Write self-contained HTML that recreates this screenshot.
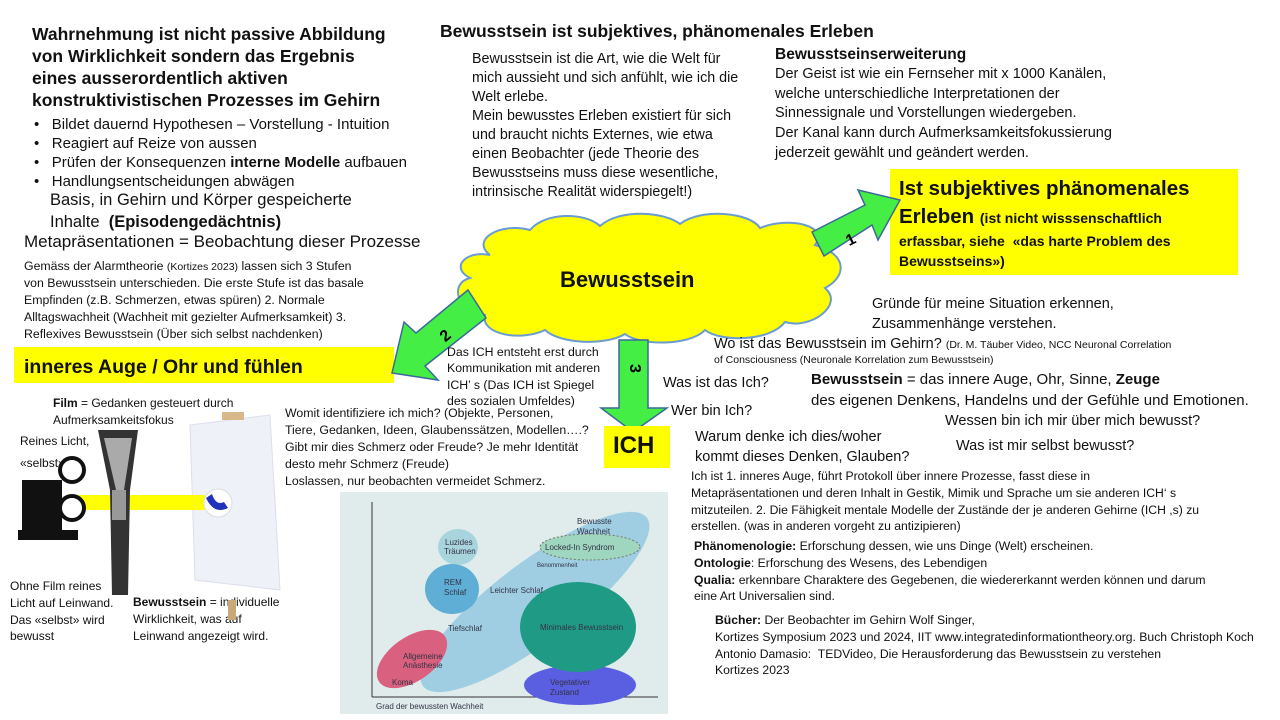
<!DOCTYPE html>
<html><head><meta charset="utf-8"><style>
body{margin:0;width:1280px;height:720px;position:relative;background:#fff;font-family:"Liberation Sans",sans-serif;color:#111;overflow:hidden}
.t{position:absolute;white-space:nowrap;line-height:1.35}
b{font-weight:bold}
</style></head><body>
<div class="t" style="left:32px;top:24px;font-size:17.5px;font-weight:bold;line-height:1.25">Wahrnehmung ist nicht passive Abbildung<br>von Wirklichkeit sondern das Ergebnis<br>eines ausserordentlich aktiven<br>konstruktivistischen Prozesses im Gehirn</div>
<div class="t" style="left:34px;top:115px;font-size:15px;line-height:1.27">•&nbsp;&nbsp; Bildet dauernd Hypothesen – Vorstellung - Intuition<br>•&nbsp;&nbsp; Reagiert auf Reize von aussen<br>•&nbsp;&nbsp; Prüfen der Konsequenzen <b>interne Modelle</b> aufbauen<br>•&nbsp;&nbsp; Handlungsentscheidungen abwägen</div>
<div class="t" style="left:50px;top:189px;font-size:16.5px;line-height:1.35">Basis, in Gehirn und Körper gespeicherte<br>Inhalte&nbsp; <b>(Episodengedächtnis)</b></div>
<div class="t" style="left:24px;top:231px;font-size:17px">Metapräsentationen = Beobachtung dieser Prozesse</div>
<div class="t" style="left:24px;top:258px;font-size:12.3px;line-height:1.38">Gemäss der Alarmtheorie <span style="font-size:10.5px">(Kortizes 2023)</span> lassen sich 3 Stufen<br>von Bewusstsein unterschieden. Die erste Stufe ist das basale<br>Empfinden (z.B. Schmerzen, etwas spüren) 2. Normale<br>Alltagswachheit (Wachheit mit gezielter Aufmerksamkeit) 3.<br>Reflexives Bewusstsein (Über sich selbst nachdenken)</div>
<div style="position:absolute;left:14px;top:347px;width:380px;height:36px;background:#ffff00"></div>
<div class="t" style="left:24px;top:354px;font-size:19.5px;font-weight:bold">inneres Auge / Ohr und fühlen</div>

<div class="t" style="left:440px;top:20px;font-size:17.5px;font-weight:bold">Bewusstsein ist subjektives, phänomenales Erleben</div>
<div class="t" style="left:472px;top:50px;font-size:14.3px;line-height:1.33">Bewusstsein ist die Art, wie die Welt für<br>mich aussieht und sich anfühlt, wie ich die<br>Welt erlebe.<br>Mein bewusstes Erleben existiert für sich<br>und braucht nichts Externes, wie etwa<br>einen Beobachter (jede Theorie des<br>Bewusstseins muss diese wesentliche,<br>intrinsische Realität widerspiegelt!)</div>
<div class="t" style="left:775px;top:45px;font-size:15.5px;font-weight:bold">Bewusstseinserweiterung</div>
<div class="t" style="left:775px;top:65px;font-size:14.5px;line-height:1.36">Der Geist ist wie ein Fernseher mit x 1000 Kanälen,<br>welche unterschiedliche Interpretationen der<br>Sinnessignale und Vorstellungen wiedergeben.<br>Der Kanal kann durch Aufmerksamkeitsfokussierung<br>jederzeit gewählt und geändert werden.</div>
<div style="position:absolute;left:890px;top:169px;width:348px;height:106px;background:#ffff00"></div>
<div class="t" style="left:899px;top:175px;font-size:20.5px;font-weight:bold;line-height:1.35">Ist subjektives phänomenales<br>Erleben <span style="font-size:14px">(ist nicht wisssenschaftlich</span></div>
<div class="t" style="left:899px;top:232px;font-size:14px;font-weight:bold;line-height:1.4">erfassbar, siehe&nbsp; «das harte Problem des<br>Bewusstseins»)</div>

<svg style="position:absolute;left:0;top:0" width="1280" height="720">
<path d="M490 255 C470 240 500 222 530 230 C545 212 585 212 600 226 C620 208 665 212 680 224 C700 208 750 212 760 228 C790 216 830 226 815 245 C850 255 845 278 825 288 C845 305 810 330 785 322 C770 342 720 342 705 330 C690 346 640 346 625 334 C605 346 560 344 545 330 C520 342 480 334 485 315 C455 310 450 283 470 278 C450 268 465 250 490 255Z" fill="#ffff00" stroke="#6a9bd1" stroke-width="2"/>
<polygon points="812,232 865,205 858,190 900,200 878,240 872,225 824,256" fill="#44ee44" stroke="#3a6a9a" stroke-width="1.5"/>
<polygon points="468,290 416,333 404,322 392,373 438,380 425,366 486,318" fill="#44ee44" stroke="#3a6a9a" stroke-width="1.5"/>
<polygon points="619,340 648,340 648,408 667,408 633,432 601,408 619,408" fill="#44ee44" stroke="#3a6a9a" stroke-width="1.5"/>
<text x="846" y="247" font-size="16" font-weight="bold" transform="rotate(-27 846 240)" font-family="Liberation Sans">1</text>
<text x="440" y="340" font-size="16" font-weight="bold" transform="rotate(-40 446 334)" font-family="Liberation Sans">2</text>
<text x="627" y="373" font-size="16" font-weight="bold" transform="rotate(90 633 370)" font-family="Liberation Sans">3</text>
</svg>
<div class="t" style="left:560px;top:265px;font-size:22px;font-weight:bold">Bewusstsein</div>
<div style="position:absolute;left:604px;top:426px;width:66px;height:42px;background:#ffff00"></div>
<div class="t" style="left:613px;top:430px;font-size:24px;font-weight:bold">ICH</div>

<div class="t" style="left:447px;top:344px;font-size:12.3px;line-height:1.33">Das ICH entsteht erst durch<br>Kommunikation mit anderen<br>ICH’ s (Das ICH ist Spiegel<br>des sozialen Umfeldes)</div>
<div class="t" style="left:663px;top:374px;font-size:14.5px">Was ist das Ich?</div>
<div class="t" style="left:671px;top:402px;font-size:14.5px">Wer bin Ich?</div>
<div class="t" style="left:695px;top:428px;font-size:14.5px;line-height:1.35">Warum denke ich dies/woher<br>kommt dieses Denken, Glauben?</div>
<div class="t" style="left:872px;top:294px;font-size:14.5px;line-height:1.4">Gründe für meine Situation erkennen,<br>Zusammenhänge verstehen.</div>
<div class="t" style="left:714px;top:335px;font-size:14.5px">Wo ist das Bewusstsein im Gehirn? <span style="font-size:10.5px">(Dr. M. Täuber Video, NCC Neuronal Correlation</span></div>
<div class="t" style="left:714px;top:353px;font-size:10.5px">of Consciousness (Neuronale Korrelation zum Bewusstsein)</div>
<div class="t" style="left:811px;top:369px;font-size:15px;line-height:1.4"><b>Bewusstsein</b> = das innere Auge, Ohr, Sinne, <b>Zeuge</b><br>des eigenen Denkens, Handelns und der Gefühle und Emotionen.</div>
<div class="t" style="left:945px;top:412px;font-size:14.5px">Wessen bin ich mir über mich bewusst?</div>
<div class="t" style="left:956px;top:437px;font-size:14.5px">Was ist mir selbst bewusst?</div>
<div class="t" style="left:691px;top:468px;font-size:12.2px;line-height:1.38">Ich ist 1. inneres Auge, führt Protokoll über innere Prozesse, fasst diese in<br>Metapräsentationen und deren Inhalt in Gestik, Mimik und Sprache um sie anderen ICH‘ s<br>mitzuteilen. 2. Die Fähigkeit mentale Modelle der Zustände der je anderen Gehirne (ICH ,s) zu<br>erstellen. (was in anderen vorgeht zu antizipieren)</div>
<div class="t" style="left:694px;top:538px;font-size:12.2px;line-height:1.38"><b>Phänomenologie:</b> Erforschung dessen, wie uns Dinge (Welt) erscheinen.<br><b>Ontologie</b>: Erforschung des Wesens, des Lebendigen<br><b>Qualia:</b> erkennbare Charaktere des Gegebenen, die wiedererkannt werden können und darum<br>eine Art Universalien sind.</div>
<div class="t" style="left:715px;top:612px;font-size:12.2px;line-height:1.38"><b>Bücher:</b> Der Beobachter im Gehirn Wolf Singer,<br>Kortizes Symposium 2023 und 2024, IIT www.integratedinformationtheory.org. Buch Christoph Koch<br>Antonio Damasio:&nbsp; TEDVideo, Die Herausforderung das Bewusstsein zu verstehen<br>Kortizes 2023</div>

<div class="t" style="left:285px;top:405px;font-size:12.3px;line-height:1.38">Womit identifiziere ich mich? (Objekte, Personen,<br>Tiere, Gedanken, Ideen, Glaubenssätzen, Modellen….?<br>Gibt mir dies Schmerz oder Freude? Je mehr Identität<br>desto mehr Schmerz (Freude)<br>Loslassen, nur beobachten vermeidet Schmerz.</div>

<div class="t" style="left:53px;top:395px;font-size:12px;line-height:1.4"><b>Film</b> = Gedanken gesteuert durch<br>Aufmerksamkeitsfokus</div>
<div class="t" style="left:20px;top:430px;font-size:12px;line-height:1.85">Reines Licht,<br>«selbst»</div>
<div class="t" style="left:10px;top:578px;font-size:12px;line-height:1.4">Ohne Film reines<br>Licht auf Leinwand.<br>Das «selbst» wird<br>bewusst</div>
<div class="t" style="left:133px;top:594px;font-size:12px;line-height:1.4"><b>Bewusstsein</b> = individuelle<br>Wirklichkeit, was auf<br>Leinwand angezeigt wird.</div>

<svg style="position:absolute;left:0;top:390px" width="340" height="230">
<rect x="228" y="210" width="8" height="20" fill="#c9a878"/>
<rect x="208" y="170" width="50" height="10" fill="#d8b88a"/>
<polygon points="190,35 270,25 280,200 195,190" fill="#eef2f8" stroke="#dde" />
<rect x="222" y="22" width="22" height="8" fill="#d8b88a"/>
<rect x="75" y="105" width="130" height="15" fill="#ffff00"/>
<circle cx="218" cy="113" r="14" fill="#fff" stroke="#ddd"/>
<path d="M206 108 Q214 125 228 118 L224 112 Q216 116 212 104Z" fill="#2233bb"/>
<path d="M98 40 L138 40 L130 100 L128 205 L112 205 L110 100Z" fill="#333"/>
<path d="M104 48 L132 48 L124 100 L116 100Z" fill="#aaa"/>
<rect x="112" y="100" width="14" height="30" fill="#999"/>
<rect x="22" y="90" width="40" height="50" fill="#111"/>
<circle cx="72" cy="80" r="12" fill="#fff" stroke="#111" stroke-width="4"/>
<circle cx="72" cy="118" r="12" fill="#fff" stroke="#111" stroke-width="4"/>
<rect x="18" y="140" width="60" height="10" fill="#111"/>
</svg>

<svg style="position:absolute;left:340px;top:492px" width="328" height="222">
<rect width="328" height="222" fill="#dfeceb"/>
<line x1="32" y1="205" x2="32" y2="10" stroke="#333"/>
<line x1="32" y1="205" x2="318" y2="205" stroke="#333"/>
<ellipse cx="195" cy="110" rx="140" ry="40" transform="rotate(-37 195 110)" fill="#8fc7e0" opacity=".8"/>
<ellipse cx="118" cy="55" rx="20" ry="18" fill="#a8d4dd"/>
<ellipse cx="112" cy="97" rx="27" ry="25" fill="#5eaed6"/>
<ellipse cx="72" cy="167" rx="40" ry="22" transform="rotate(-35 72 167)" fill="#d9607f"/>
<ellipse cx="240" cy="193" rx="56" ry="20" fill="#5a5ee0"/>
<ellipse cx="238" cy="135" rx="58" ry="45" fill="#1f9a85"/>
<ellipse cx="250" cy="55" rx="50" ry="13" fill="#9ed6c0" stroke="#776" stroke-dasharray="2 2"/>
<g font-family="Liberation Sans" font-size="8" fill="#334">
<text x="105" y="53">Luzides</text><text x="104" y="62">Träumen</text>
<text x="104" y="93">REM</text><text x="104" y="103">Schlaf</text>
<text x="150" y="101">Leichter Schlaf</text><text x="108" y="139">Tiefschlaf</text>
<text x="63" y="167">Allgemeine</text><text x="63" y="176">Anästhesie</text><text x="52" y="193">Koma</text>
<text x="237" y="32">Bewusste</text><text x="237" y="42">Wachheit</text>
<text x="205" y="58">Locked-In Syndrom</text><text x="197" y="75" font-size="6">Benommenheit</text>
<text x="200" y="138">Minimales Bewusstsein</text>
<text x="210" y="193">Vegetativer</text><text x="210" y="203">Zustand</text>
<text x="36" y="217">Grad der bewussten Wachheit</text>
</g>
</svg>
</body></html>
